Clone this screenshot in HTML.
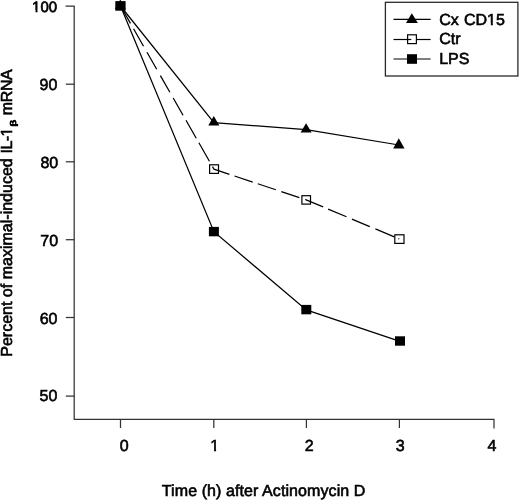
<!DOCTYPE html>
<html>
<head>
<meta charset="utf-8">
<style>
html,body{margin:0;padding:0;background:#fff;}
body{width:520px;height:500px;overflow:hidden;}
svg{display:block;}
text{font-family:"Liberation Sans",Arial,sans-serif;fill:#000;stroke:#000;stroke-width:0.6px;text-rendering:geometricPrecision;}
</style>
</head>
<body>
<svg width="520" height="500" viewBox="0 0 520 500">
  <!-- axes -->
  <g stroke="#333" stroke-width="1.25" fill="none" stroke-linejoin="miter" stroke-linecap="butt">
    <polyline points="65.5,6 74.2,6 74.2,419.4 494,419.4 494,428.5"/>
    <line x1="65.8" y1="84.2" x2="74.2" y2="84.2"/>
    <line x1="65.8" y1="161.8" x2="74.2" y2="161.8"/>
    <line x1="65.8" y1="239.7" x2="74.2" y2="239.7"/>
    <line x1="65.8" y1="317.5" x2="74.2" y2="317.5"/>
    <line x1="65.8" y1="396.1" x2="74.2" y2="396.1"/>
    <line x1="120.5" y1="419.4" x2="120.5" y2="428"/>
    <line x1="213.8" y1="419.4" x2="213.8" y2="428"/>
    <line x1="306.4" y1="419.4" x2="306.4" y2="428"/>
    <line x1="399.4" y1="419.4" x2="399.4" y2="428"/>
  </g>
  <!-- y tick labels -->
  <g font-size="16" text-anchor="end">
    <text x="57.1" y="11.7" font-size="15" style="stroke-width:0.7px">100</text>
    <text x="57.3" y="89.9">90</text>
    <text x="58.2" y="167.7">80</text>
    <text x="58.1" y="245.7">70</text>
    <text x="57.5" y="323.9">60</text>
    <text x="57.3" y="401.1">50</text>
  </g>
  <!-- x tick labels -->
  <g font-size="16" text-anchor="middle">
    <text x="124.1" y="450.8">0</text>
    <text x="214.8" y="450.8">1</text>
    <text x="309.1" y="450.8">2</text>
    <text x="400.1" y="450.8">3</text>
    <text x="491.9" y="451">4</text>
  </g>
  <!-- axis titles -->
  <text x="161.8" y="495.8" font-size="16" textLength="203.6" lengthAdjust="spacing">Time (h) after Actinomycin D</text>
  <text transform="translate(12.4,356.76) rotate(-90)" font-size="16" textLength="198.5" lengthAdjust="spacing">Percent of maximal-induced</text>
  <text transform="translate(12.4,153.48) rotate(-90)" font-size="16" textLength="26" lengthAdjust="spacing">IL-1</text>
  <text transform="translate(16.2,126.4) rotate(-90) scale(1.4,1)" font-size="8.25" style="stroke-width:0.8px">β</text>
  <text transform="translate(12.4,115.21) rotate(-90)" font-size="16" textLength="46" lengthAdjust="spacing">mRNA</text>

  <!-- data lines -->
  <g stroke="#000" stroke-width="1.25" fill="none">
    <polyline points="120.5,6 213.9,122.6 306.1,129.6 399,145"/>
    <polyline points="120.5,6 213.9,231.7 306.3,309.9 400,341.4"/>
    <path d="M120.50,6.00 L130.47,23.40 M133.56,28.80 L143.53,46.20 M146.97,52.20 L156.71,69.20 M160.38,75.60 L169.89,92.20 M173.21,98.00 L183.06,115.20 M185.98,120.30 L196.24,138.20 M198.88,142.80 L209.42,161.20 M212.51,166.60 L214.00,169.20 L229.40,174.32 M234.50,176.01 L252.70,182.06 M257.80,183.75 L275.80,189.73 M281.30,191.56 L299.40,197.57 M305.20,199.50 L306.10,199.80 L323.10,206.95 M328.10,209.05 L346.50,216.79 M351.90,219.06 L369.80,226.59 M375.40,228.95 L394.30,236.90 M398.40,238.62 L399.30,239.00"/>
  </g>
  <!-- markers -->
  <g fill="#000">
    <rect x="115.3" y="1.1" width="10.3" height="9.6"/>
    <rect x="208.9" y="226.9" width="10" height="9.4"/>
    <rect x="301.3" y="304.9" width="10" height="9.4"/>
    <rect x="395" y="336.3" width="10" height="9.4"/>
    <polygon points="120.3,-0.5 125.8,9 114.8,9"/>
    <polygon points="213.8,116 219.3,125.6 208.3,125.6"/>
    <polygon points="306.1,123.2 311.6,132.6 300.6,132.6"/>
    <polygon points="398.8,138.3 404.5,148.4 393.2,148.4"/>
  </g>
  <g fill="none" stroke="#000" stroke-width="1.2">
    <rect x="209.6" y="164.8" width="8.9" height="8.6"/>
    <rect x="301.9" y="195.7" width="8.6" height="8.4"/>
    <rect x="394.8" y="234.8" width="9.2" height="8.6"/>
  </g>

  <!-- legend -->
  <rect x="385.4" y="2.3" width="132.5" height="73.7" fill="none" stroke="#2a2a2a" stroke-width="1.3"/>
  <g stroke="#000" stroke-width="1.2">
    <line x1="393.5" y1="19.4" x2="430.6" y2="19.4"/>
    <line x1="393.5" y1="39.5" x2="411.3" y2="39.5"/>
    <line x1="416.8" y1="39.5" x2="430.6" y2="39.5"/>
    <line x1="393.5" y1="59" x2="430.6" y2="59"/>
  </g>
  <polygon points="411.8,13.2 417.9,23.1 406,23.1" fill="#000"/>
  <rect x="407.6" y="34.8" width="8.8" height="8.8" fill="none" stroke="#000" stroke-width="1.2"/>
  <rect x="407" y="54.2" width="10" height="9.6" fill="#000"/>
  <g font-size="16">
    <text x="439.2" y="24.8">Cx <tspan dx="0.8">CD15</tspan></text>
    <text x="439.2" y="44.2">Ctr</text>
    <text x="439.2" y="64.2">LPS</text>
  </g>
  <!-- trim base serif of "1" to match Helvetica-style glyph -->
  <g fill="#fff">
    <rect x="210.8" y="449" width="3.27" height="3"/>
    <rect x="216.09" y="449" width="3.2" height="3"/>
    <rect x="31.9" y="10" width="3.6" height="3"/>
    <rect x="37.53" y="10" width="2.47" height="3"/>
    <rect x="10" y="132.67" width="3" height="3.2"/>
    <rect x="10" y="127.5" width="3" height="3.15"/>
    <rect x="487.6" y="23" width="3.23" height="3"/>
    <rect x="492.85" y="23" width="3.15" height="3"/>
  </g>
</svg>
</body>
</html>
